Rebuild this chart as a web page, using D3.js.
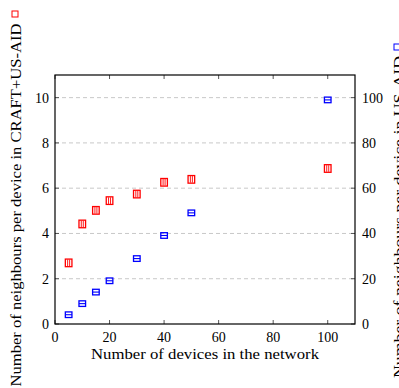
<!DOCTYPE html>
<html lang="en">
<head>
<meta charset="UTF-8">
<title>neighbours</title>
<style>
  body { margin: 0; background: #fff; }
  text { font-family: "Liberation Serif", "DejaVu Serif", serif; fill: #000; }
</style>
</head>
<body>
<svg id="svg"></svg>
<script src="https://d3js.org/d3.v7.min.js"></script>
<script>
// devices in network
const devices = [5, 10, 15, 20, 30, 40, 50, 100];
// neighbours per device, CRAFT+US-AID (left axis)
const craftUsaid = [2.7, 4.42, 5.02, 5.45, 5.74, 6.26, 6.39, 6.87];
// neighbours per device, US-AID (right axis)
const usaid = [4.1, 9.0, 14.1, 19.1, 28.9, 39.1, 49.1, 99.0];

const xTicks = [0, 20, 40, 60, 80, 100];
const yLeftTicks = [0, 2, 4, 6, 8, 10];
const yRightTicks = [0, 20, 40, 60, 80, 100];

const width = 399, height = 388;
const margin = {top: 75, left: 55, right: 44, bottom: 64};
const innerW = width - margin.left - margin.right;
const innerH = height - margin.top - margin.bottom;

const svg = d3.select("#svg").attr("width", width).attr("height", height);
const g = svg.append("g").attr("transform", `translate(${margin.left},${margin.top})`);

const x = d3.scaleLinear().domain([0, 110]).range([0, innerW]);
const yL = d3.scaleLinear().domain([0, 11]).range([innerH, 0]);
const yR = d3.scaleLinear().domain([0, 110]).range([innerH, 0]);

// grid
g.append("g").selectAll("line")
  .data(yLeftTicks.filter(d => d > 0))
  .join("line")
  .attr("x1", 0).attr("x2", innerW)
  .attr("y1", d => yL(d)).attr("y2", d => yL(d))
  .attr("stroke", "#c8c8c8").attr("stroke-width", 1)
  .attr("stroke-dasharray", "4,3");

// tick marks pointing inward
const tk = 4;
const ticks = g.append("g").attr("stroke", "#555").attr("stroke-width", 1);
xTicks.forEach(t => {
  ticks.append("line").attr("x1", x(t)).attr("x2", x(t)).attr("y1", innerH).attr("y2", innerH - tk);
  ticks.append("line").attr("x1", x(t)).attr("x2", x(t)).attr("y1", 0).attr("y2", tk);
});
yLeftTicks.forEach(t => {
  ticks.append("line").attr("x1", 0).attr("x2", tk).attr("y1", yL(t)).attr("y2", yL(t));
});
yRightTicks.forEach(t => {
  ticks.append("line").attr("x1", innerW).attr("x2", innerW - tk).attr("y1", yR(t)).attr("y2", yR(t));
});

// frame
g.append("rect").attr("width", innerW).attr("height", innerH)
  .attr("fill", "none").attr("stroke", "#000").attr("stroke-width", 1.2);

// tick labels
g.append("g").selectAll("text").data(xTicks).join("text")
  .attr("x", d => x(d)).attr("y", innerH + 18)
  .attr("text-anchor", "middle").attr("font-size", 14)
  .text(d => d);
g.append("g").selectAll("text").data(yLeftTicks).join("text")
  .attr("x", -6).attr("y", d => yL(d) + 5)
  .attr("text-anchor", "end").attr("font-size", 14)
  .text(d => d);
g.append("g").selectAll("text").data(yRightTicks).join("text")
  .attr("x", innerW + 7).attr("y", d => yR(d) + 5)
  .attr("text-anchor", "start").attr("font-size", 14)
  .text(d => d);

// markers
const s = 3.3;
const red = g.append("g");
devices.forEach((d, i) => {
  const cx = x(d), cy = yL(craftUsaid[i]);
  red.append("rect").attr("x", cx - s).attr("y", cy - s - 0.5).attr("width", 2 * s).attr("height", 2 * s + 1)
    .attr("fill", "none").attr("stroke", "#f00").attr("stroke-width", 1.3);
  [-1, 1].forEach(o => red.append("line")
    .attr("x1", cx + o).attr("x2", cx + o).attr("y1", cy - s).attr("y2", cy + s)
    .attr("stroke", "#f00").attr("stroke-width", 0.9));
});
const blue = g.append("g");
devices.forEach((d, i) => {
  const cx = x(d), cy = yR(usaid[i]);
  blue.append("rect").attr("x", cx - s).attr("y", cy - s + 0.5).attr("width", 2 * s).attr("height", 2 * s - 1)
    .attr("fill", "none").attr("stroke", "#00f").attr("stroke-width", 1.3);
  blue.append("line")
    .attr("x1", cx - s).attr("x2", cx + s).attr("y1", cy).attr("y2", cy)
    .attr("stroke", "#00f").attr("stroke-width", 1.1);
});

// axis titles
svg.append("text")
  .attr("x", margin.left + innerW / 2).attr("y", 359)
  .attr("text-anchor", "middle").attr("font-size", 15)
  .attr("textLength", 228).attr("lengthAdjust", "spacingAndGlyphs")
  .text("Number of devices in the network");

svg.append("text")
  .attr("transform", "translate(21,205) rotate(-90)")
  .attr("text-anchor", "middle").attr("font-size", 15)
  .attr("textLength", 363).attr("lengthAdjust", "spacingAndGlyphs")
  .text("Number of neighbours per device in CRAFT+US-AID");
svg.append("rect").attr("x", 12).attr("y", 11).attr("width", 6).attr("height", 6)
  .attr("fill", "none").attr("stroke", "#f00").attr("stroke-width", 1);

svg.append("text")
  .attr("transform", "translate(404,56) rotate(-90)")
  .attr("text-anchor", "end").attr("font-size", 15)
  .attr("textLength", 322).attr("lengthAdjust", "spacingAndGlyphs")
  .text("Number of neighbours per device in US-AID");
svg.append("rect").attr("x", 394).attr("y", 44).attr("width", 6).attr("height", 6)
  .attr("fill", "none").attr("stroke", "#00f").attr("stroke-width", 1);
</script>
</body>
</html>
